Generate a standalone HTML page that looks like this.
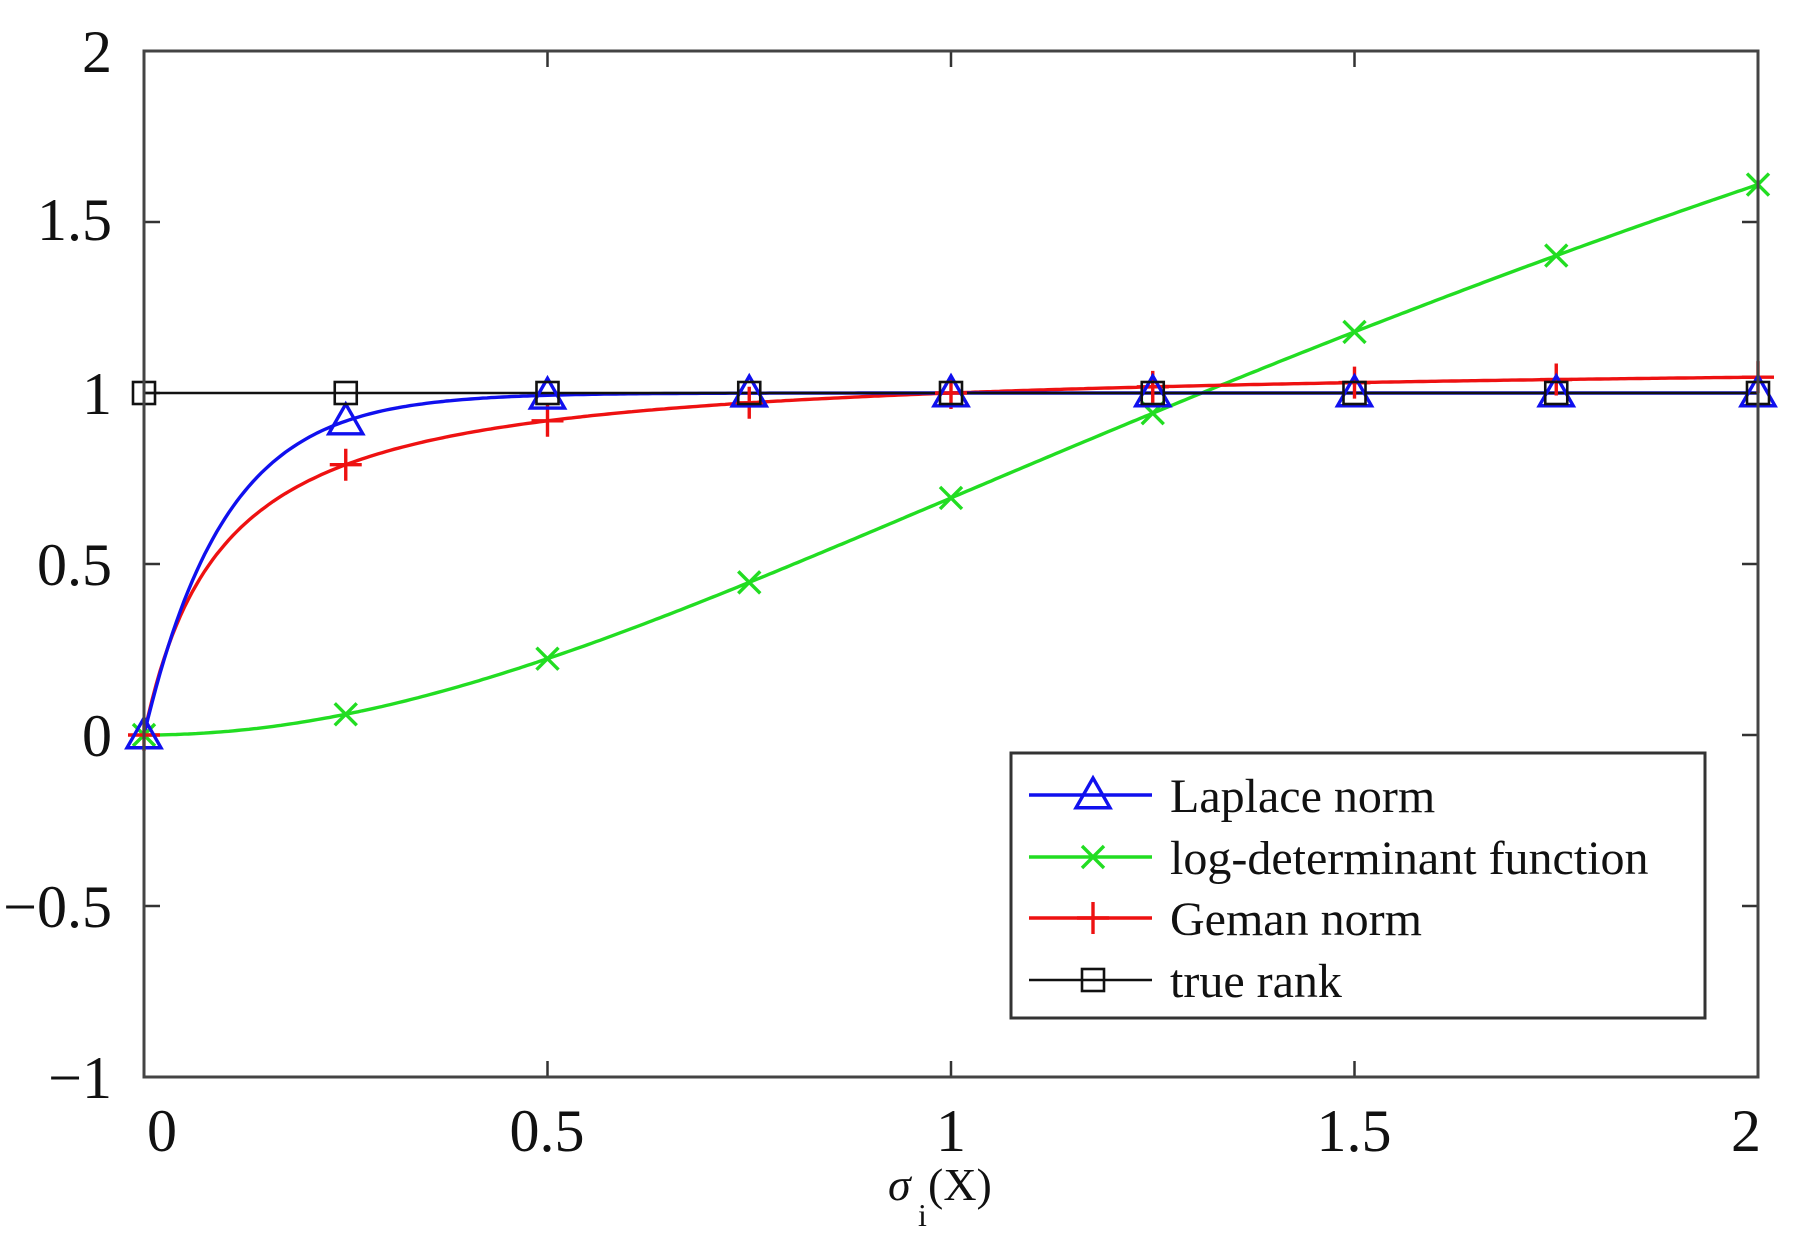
<!DOCTYPE html>
<html><head><meta charset="utf-8"><style>
html,body{margin:0;padding:0;background:#fff;}
svg{display:block;}
text{font-family:"Liberation Serif",serif;fill:#111;}
</style></head><body>
<svg id="s" width="1798" height="1244" viewBox="0 0 1798 1244" xmlns="http://www.w3.org/2000/svg">
<rect width="1798" height="1244" fill="#fff"/>
<g id="ticks" stroke="#333" stroke-width="2.5"></g>
<g id="curves" fill="none" stroke-width="3.4"></g>
<g id="marks" fill="none" stroke-width="3.4"></g>
<rect x="144" y="51" width="1614" height="1026" fill="none" stroke="#444" stroke-width="3"/>
<g font-size="60">
<text x="112" y="72" text-anchor="end">2</text>
<text x="112" y="240" text-anchor="end">1.5</text>
<text x="112" y="414" text-anchor="end">1</text>
<text x="112" y="585" text-anchor="end">0.5</text>
<text x="112" y="756" text-anchor="end">0</text>
<text x="112" y="927" text-anchor="end">−0.5</text>
<text x="112" y="1098" text-anchor="end">−1</text>
<text x="162" y="1151" text-anchor="middle">0</text>
<text x="547" y="1151" text-anchor="middle">0.5</text>
<text x="951" y="1151" text-anchor="middle">1</text>
<text x="1354" y="1151" text-anchor="middle">1.5</text>
<text x="1746" y="1151" text-anchor="middle">2</text>
</g>
<text x="888" y="1200" font-size="46" font-style="italic">σ</text>
<text x="918" y="1226" font-size="32">i</text>
<text x="928" y="1200" font-size="46">(X)</text>
<rect x="1011" y="753" width="694" height="265" fill="#fff" stroke="#333" stroke-width="3"/>
<g id="leg" stroke-width="3.4" fill="none"></g>
<g font-size="48">
<text x="1170" y="812">Laplace norm</text>
<text x="1170" y="874">log-determinant function</text>
<text x="1170" y="935">Geman norm</text>
<text x="1170" y="997">true rank</text>
</g>
</svg>
<script>
var NS="http://www.w3.org/2000/svg";
function X(v){return 144+v*807;} function Y(v){return 735-v*342;}
function el(p,t,a){var e=document.createElementNS(NS,t);for(var k in a)e.setAttribute(k,a[k]);p.appendChild(e);return e;}
var T=document.getElementById('ticks');
for(var i=0;i<=8;i++){var x=X(i*0.25); if(i%2==0){el(T,'line',{x1:x,y1:1077,x2:x,y2:1061});el(T,'line',{x1:x,y1:51,x2:x,y2:67});}}
for(var j=-2;j<=4;j++){var y=Y(j*0.5);el(T,'line',{x1:144,y1:y,x2:160,y2:y});el(T,'line',{x1:1758,y1:y,x2:1742,y2:y});}
var g=0.097;
var fs={
lap:function(x){return 1-Math.exp(-x/0.1);},
ld:function(x){return Math.log(1+x*x);},
gem:function(x){return (1+g)*x/(g+x);},
tr:function(x){return 1;}
};
var col={lap:'#1010ee',ld:'#22dd22',gem:'#ee1111',tr:'#111'};
var C=document.getElementById('curves');
['ld','gem','lap','tr'].forEach(function(k){var d='';for(var i=0;i<=400;i++){var x=i/200;d+=(i?'L':'M')+X(x).toFixed(1)+' '+Y(fs[k](x)).toFixed(1);}el(C,'path',{d:d,stroke:col[k],'stroke-width':k=='tr'?2.5:3.4});});
var M=document.getElementById('marks');
function mk(p,k,cx,cy){var c=col[k];
if(k=='lap'){var s=17;el(p,'path',{d:'M'+cx+' '+(cy-s)+'L'+(cx+s)+' '+(cy+s*0.75)+'L'+(cx-s)+' '+(cy+s*0.75)+'Z',stroke:c});}
if(k=='ld'){var s=11;el(p,'path',{d:'M'+(cx-s)+' '+(cy-s)+'L'+(cx+s)+' '+(cy+s)+'M'+(cx-s)+' '+(cy+s)+'L'+(cx+s)+' '+(cy-s),stroke:c});}
if(k=='gem'){var s=16;el(p,'path',{d:'M'+(cx-s)+' '+cy+'L'+(cx+s)+' '+cy+'M'+cx+' '+(cy-s)+'L'+cx+' '+(cy+s),stroke:c});}
if(k=='tr'){var s=11;el(p,'rect',{x:cx-s,y:cy-s,width:2*s,height:2*s,stroke:c,fill:'none','stroke-width':2.6});}
}
['ld','gem','lap','tr'].forEach(function(k){for(var i=0;i<=8;i++){var x=i*0.25;mk(M,k,X(x),Y(fs[k](x)));}});
var L=document.getElementById('leg');
[['lap',795],['ld',857],['gem',918],['tr',980]].forEach(function(a){el(L,'line',{x1:1029,y1:a[1],x2:1152,y2:a[1],stroke:col[a[0]],'stroke-width':a[0]=='tr'?2.5:3.4});mk(L,a[0],1093,a[1]);});
</script>
</body></html>
